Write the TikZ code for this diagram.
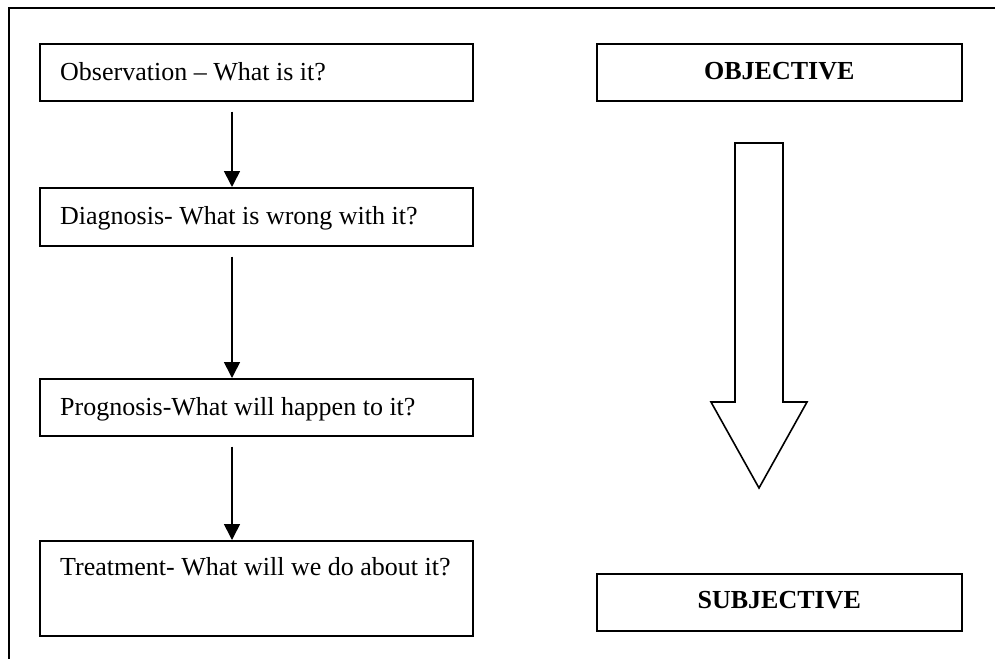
\documentclass[tikz,border=0pt]{standalone}
\usepackage{fontspec}
\setmainfont{Liberation Serif}
\usetikzlibrary{arrows.meta,calc}
\begin{document}
\begin{tikzpicture}[x=1pt,y=-1pt,
  box/.style={draw=black,line width=1.6pt,fill=white,inner sep=0pt,anchor=north west},
  lbl/.style={inner sep=0pt,font=\fontsize{26}{30}\selectfont},
  blbl/.style={inner sep=0pt,font=\fontsize{26}{30}\selectfont\bfseries},
  arr/.style={line width=1.6pt,-{Triangle[width=16pt,length=16pt]}},
  frame/.style={line width=2.2pt}]
\useasboundingbox (0,0) rectangle (995,659);
% frame (top and left only)
\coordinate (ftl) at (9,8);
\coordinate (ftr) at (995,8);
\coordinate (fbl) at (9,659);
\draw[frame] (ftr) -- (ftl) -- (fbl);
% left boxes
\node[box,minimum width=433pt,minimum height=57pt] (obs) at (39,43) {};
\node[box,minimum width=433pt,minimum height=58pt] (diag) at (39,187) {};
\node[box,minimum width=433pt,minimum height=57pt] (prog) at (39,378) {};
\node[box,minimum width=433pt,minimum height=95pt] (treat) at (39,540) {};
\node[lbl,anchor=base west] (obst) at ($(obs.north west)+(21,37)$) {Observation – What is it?};
\node[lbl,anchor=base west] (diagt) at ($(diag.north west)+(21,37)$) {Diagnosis- What is wrong with it?};
\node[lbl,anchor=base west] (progt) at ($(prog.north west)+(21,37)$) {Prognosis-What will happen to it?};
\node[lbl,anchor=base west] (treatt) at ($(treat.north west)+(21,35)$) {Treatment- What will we do about it?};
% arrows between left boxes
\draw[arr] ($(obs.south west)+(193,10)$) -- ($(diag.north west)+(193,0)$);
\draw[arr] ($(diag.south west)+(193,10)$) -- ($(prog.north west)+(193,0)$);
\draw[arr] ($(prog.south west)+(193,10)$) -- ($(treat.north west)+(193,0)$);
% right boxes
\node[box,minimum width=365pt,minimum height=57pt] (obj) at (596,43) {};
\node[box,minimum width=365pt,minimum height=57pt] (subj) at (596,573) {};
\node[blbl,anchor=base] (objt) at ($(obj.north)+(0,36)$) {OBJECTIVE};
\node[blbl,anchor=base] (subjt) at ($(subj.north)+(0,35)$) {SUBJECTIVE};
% big hollow arrow
\draw[line width=1.6pt,line join=miter]
  (735,143) -- (783,143) -- (783,402) -- (807,402) -- (759,488)
  -- (711,402) -- (735,402) -- cycle;
\end{tikzpicture}
\end{document}
